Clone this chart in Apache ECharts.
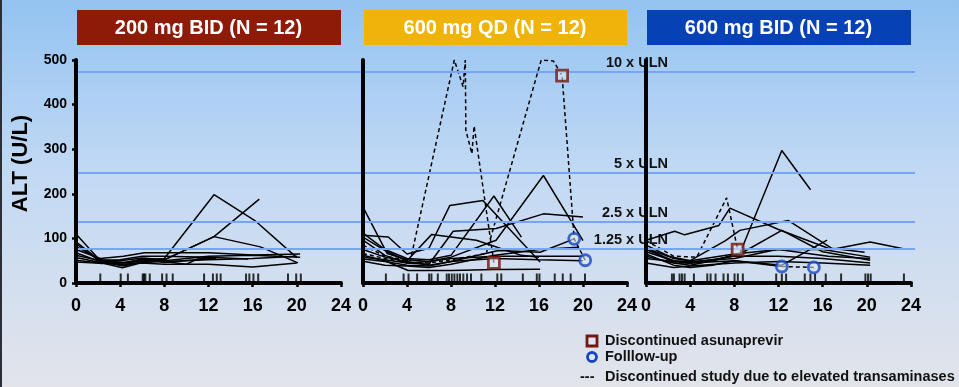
<!DOCTYPE html>
<html>
<head>
<meta charset="utf-8">
<script src="https://cdn.jsdelivr.net/npm/echarts@6/dist/echarts.min.js"></script>
<style>
  html, body { margin: 0; padding: 0; }
  #chart { width: 959px; height: 387px; }
</style>
</head>
<body>
<div id="chart"></div>
<script>
const panelTitles = ["200 mg BID (N = 12)", "600 mg QD (N = 12)", "600 mg BID (N = 12)"];
const panelColors = ["#8e1a08", "#f0b30a", "#0642b6"];

const ulnValues = [473, 247, 137, 76];
const ulnLabels = ["10 x ULN", "5 x ULN", "2.5 x ULN", "1.25 x ULN"];

// 200 mg BID, one array per patient: [week, ALT]
const p1Traces = [
  [[0, 110], [2.2, 50], [4.2, 45], [6, 52], [8, 55], [12.5, 198], [16.2, 140], [20, 57]],
  [[0, 88], [2.2, 48], [4.3, 38], [6, 48], [8, 52], [12.5, 104], [16.6, 188]],
  [[0, 82], [2.2, 52], [4, 50], [6, 56], [8, 52], [12.5, 104], [16.7, 81], [20.1, 45]],
  [[0, 75], [2.2, 55], [4.3, 60], [6.2, 68], [8, 68], [12, 68], [16, 63], [20.3, 65]],
  [[0, 62], [2.2, 50], [4, 52], [6, 60], [8, 60], [12, 58], [15.6, 54]],
  [[0, 57], [2.2, 46], [4.2, 34], [6, 46], [8, 48], [10, 42], [11, 54], [12.7, 57]],
  [[0, 51], [2.2, 45], [4, 42], [6, 45], [8, 42], [12, 42], [16, 36], [20, 45]],
  [[0, 47], [2.2, 44], [4, 45], [6, 50], [8, 48], [12, 52], [16, 55], [20, 60]],
  [[0, 68], [2.2, 48], [4.3, 40], [6, 52], [8, 50], [12, 60], [16, 62], [20.3, 58]],
  [[0, 92], [2.2, 50], [4.5, 46], [6.2, 55], [8, 46], [12.7, 56]]
];
const p1Dashed = [];
const p1Rug = [2.2, 4.05, 4.7, 6.04, 6.16, 6.28, 6.68, 7.8, 8.2, 8.76, 11.6, 12.4, 12.75, 13.1,
  15.4, 15.7, 16.07, 16.5, 19.2, 19.94, 20.36];

// 600 mg QD
const p2Traces = [
  [[0, 170], [2.2, 66], [4, 52], [6, 48], [8, 58], [12.1, 96], [16.4, 241], [20, 95]],
  [[0, 112], [2, 75], [4, 55], [6, 52], [8, 62], [11.9, 195], [14.4, 103]],
  [[0, 107], [2.3, 103], [4, 65], [6, 78], [7.9, 174], [10.9, 185], [16.1, 47]],
  [[0, 103], [2.2, 70], [4, 50], [6.25, 109], [10.3, 96], [14.4, 62], [16, 58]],
  [[0, 96], [2, 62], [4, 45], [6, 42], [8.2, 116], [12.1, 122], [16.4, 155], [20, 148]],
  [[0, 75], [2, 58], [4, 48], [6, 40], [8, 48], [12.3, 73], [16.1, 69], [19.2, 99]],
  [[0, 62], [2, 50], [4.1, 28], [8, 28], [12, 30], [16.1, 31]],
  [[0, 58], [2, 52], [4, 45], [6, 48], [8, 55], [12, 60], [16, 60], [20.1, 60]],
  [[0, 54], [2, 48], [4, 40], [6, 38], [8, 48], [12, 55], [16, 52], [20, 50]],
  [[0, 49], [2, 40], [4, 38], [6, 35], [8, 42], [12, 62], [16, 75], [19.6, 80]]
];
const p2Dashed = [
  [[0, 85], [2, 60], [4.3, 50], [8.3, 500], [9.1, 440], [9.3, 500], [9.35, 342], [9.9, 290],
    [10.1, 352], [10.3, 318], [11.9, 45]],
  [[0, 66], [2, 55], [4, 46], [6, 45], [8, 52], [11.2, 66], [16.2, 500], [17.3, 498],
    [18.1, 465], [19.2, 99], [20.2, 51]]
];
const p2Rug = [2.08, 3.69, 4.14, 4.92, 6.01, 6.22, 6.8, 7.61, 7.82, 8.07, 8.31, 8.58, 8.82, 9.12,
  9.46, 9.82, 10.76, 12.21, 12.57, 14.53, 15.8, 16.04, 17.43, 18.16, 18.88, 20.18];

// 600 mg BID
const p3Traces = [
  [[0, 75], [2.5, 50], [4, 45], [6, 50], [8.5, 66], [12.3, 297], [14.9, 209]],
  [[0, 96], [2.6, 116], [3.5, 108], [6.6, 129], [7.6, 168], [12, 120], [16.8, 75], [20.3, 92], [23.3, 77]],
  [[0, 85], [2.5, 55], [4, 50], [7.2, 95], [8.5, 118], [12.9, 140], [16.8, 78], [19.8, 69]],
  [[0, 80], [2.5, 45], [4, 40], [6, 50], [8.5, 65], [12.3, 118], [16, 70], [20.3, 51]],
  [[0, 70], [2.5, 50], [4, 48], [8, 55], [11.85, 75], [16, 75], [20.3, 58]],
  [[0, 65], [2.5, 40], [4, 35], [6, 40], [8, 50], [12.3, 37]],
  [[0, 60], [2.5, 45], [4, 45], [8, 50], [12.3, 40], [16.4, 96]],
  [[0, 55], [2.5, 48], [4, 45], [8, 60], [12, 60], [16, 55], [20.3, 45]],
  [[0, 45], [2.5, 35], [4, 38], [8, 45], [12, 48], [16, 45], [20.3, 40]],
  [[0, 78], [2, 60], [4, 50], [8, 65], [12, 75], [16.5, 60], [20.3, 55]]
];
const p3Dashed = [
  [[0, 95], [2.5, 60], [4.6, 58], [7.3, 191], [8.3, 75]],
  [[12.3, 37], [15.2, 35]]
];
const p3Rug = [2.35, 2.53, 3.04, 3.26, 3.5, 4.34, 5.55, 5.85, 6.3, 7.02, 7.42, 8.02, 8.32, 8.77,
  11.79, 12.3, 12.69, 14.38, 14.89, 15.31, 16.28, 17.67, 19.87, 20.11, 20.35, 23.36];

const squares = [[], [[11.9, 45], [18.1, 465]], [[8.3, 75]]];
const circles = [[], [[19.2, 99], [20.2, 51]], [[12.3, 37], [15.2, 35]]];

const allTraces = [p1Traces, p2Traces, p3Traces];
const allDashed = [p1Dashed, p2Dashed, p3Dashed];
const allRugs = [p1Rug, p2Rug, p3Rug];

const panels = [
  { left: 76, width: 265 },
  { left: 363, width: 264 },
  { left: 646, width: 265 }
];
const plotTop = 60;
const plotHeight = 223;
const font = '"Liberation Sans", Arial, sans-serif';
const markerFill = "rgba(225,232,244,0.7)";

const chart = echarts.init(document.getElementById("chart"));

const grid = panels.map(p => ({ left: p.left, width: p.width, top: plotTop, height: plotHeight }));
grid.push({ left: 76, width: 839, top: plotTop, height: plotHeight });

const xAxis = panels.map((p, i) => ({
  type: "value",
  gridIndex: i,
  min: 0,
  max: 24,
  interval: 4,
  z: 5,
  axisLine: { lineStyle: { color: "#000", width: 4 } },
  axisTick: { show: true, length: 4, lineStyle: { color: "#000", width: 2.5 } },
  axisLabel: { color: "#000", fontSize: 18, fontWeight: "bold", fontFamily: font, margin: 14 },
  splitLine: { show: false }
}));
xAxis.push({ type: "value", gridIndex: 3, min: 0, max: 1, show: false });

const yAxis = panels.map((p, i) => ({
  type: "value",
  gridIndex: i,
  min: 0,
  max: 500,
  interval: 100,
  z: 5,
  name: i === 0 ? "ALT (U/L)" : "",
  nameLocation: "middle",
  nameGap: 44,
  nameTextStyle: { color: "#000", fontSize: 22, fontWeight: "bold", fontFamily: font, padding: [0, 0, 0, 16] },
  axisLine: { show: true, lineStyle: { color: "#000", width: 4 } },
  axisTick: { show: i === 0, length: 4, lineStyle: { color: "#000", width: 2.5 } },
  axisLabel: { show: i === 0, color: "#000", fontSize: 14, fontWeight: "bold", fontFamily: font, margin: 9 },
  splitLine: { show: false }
}));
yAxis.push({ type: "value", gridIndex: 3, min: 0, max: 500, show: false });

const series = [];

series.push({
  type: "line",
  xAxisIndex: 3,
  yAxisIndex: 3,
  data: [],
  z: 1,
  silent: true,
  markLine: {
    silent: true,
    symbol: "none",
    label: { show: false },
    lineStyle: { color: "#77a4f4", width: 2, type: "solid" },
    data: ulnValues.map(v => ({ yAxis: v }))
  }
});

allTraces.forEach((traces, i) => {
  traces.forEach(t => {
    series.push({
      type: "line", xAxisIndex: i, yAxisIndex: i, data: t,
      symbol: "none", silent: true, z: 3,
      lineStyle: { color: "#000", width: 1.5 }
    });
  });
  allDashed[i].forEach(t => {
    series.push({
      type: "line", xAxisIndex: i, yAxisIndex: i, data: t,
      symbol: "none", silent: true, z: 3,
      lineStyle: { color: "#000", width: 1.5, type: [4, 3] }
    });
  });
  series.push({
    type: "scatter", xAxisIndex: i, yAxisIndex: i,
    data: allRugs[i].map(x => [x, 0]),
    symbol: "rect", symbolSize: [2, 9], symbolOffset: [0, -5],
    itemStyle: { color: "#000" }, silent: true, z: 6
  });
  series.push({
    type: "scatter", xAxisIndex: i, yAxisIndex: i, data: squares[i],
    symbol: "rect", symbolSize: 11, silent: true, z: 7,
    itemStyle: { color: markerFill, borderColor: "#74170e", borderWidth: 2.8 }
  });
  series.push({
    type: "scatter", xAxisIndex: i, yAxisIndex: i, data: circles[i],
    symbol: "circle", symbolSize: 11, silent: true, z: 7,
    itemStyle: { color: markerFill, borderColor: "#1546bd", borderWidth: 2.8 }
  });
});

const titleGraphics = panels.map((p, i) => ({
  type: "group",
  children: [
    { type: "rect", shape: { x: p.left + 1, y: 10, width: p.width - 1, height: 35 }, style: { fill: panelColors[i] } },
    {
      type: "text", x: p.left + p.width / 2, y: 28,
      style: {
        text: panelTitles[i], fill: "#fff", align: "center", verticalAlign: "middle",
        font: "bold 20px " + font
      }
    }
  ]
}));

const legendFont = "bold 14.5px " + font;
const legendGraphics = [
  { type: "rect", shape: { x: 587, y: 336, width: 10, height: 10 }, style: { fill: markerFill, stroke: "#74170e", lineWidth: 2.8 } },
  { type: "text", x: 605, y: 341, style: { text: "Discontinued asunaprevir", fill: "#111", font: legendFont, verticalAlign: "middle" } },
  { type: "circle", shape: { cx: 592, cy: 357, r: 4.5 }, style: { fill: markerFill, stroke: "#1546bd", lineWidth: 2.8 } },
  { type: "text", x: 605, y: 357, style: { text: "Folllow-up", fill: "#111", font: legendFont, verticalAlign: "middle" } },
  { type: "text", x: 580, y: 377, style: { text: "---", fill: "#111", font: legendFont, verticalAlign: "middle" } },
  { type: "text", x: 605, y: 377, style: { text: "Discontinued study due to elevated transaminases", fill: "#111", font: legendFont, verticalAlign: "middle" } },
  { type: "rect", shape: { x: 0, y: 0, width: 2, height: 387 }, style: { fill: "#2a2f3a" } }
];

chart.setOption({
  animation: false,
  backgroundColor: new echarts.graphic.LinearGradient(0, 0, 0, 1, [
    { offset: 0, color: "#93c3f1" },
    { offset: 0.45, color: "#c2d9f4" },
    { offset: 1, color: "#e2e4ea" }
  ]),
  grid: grid,
  xAxis: xAxis,
  yAxis: yAxis,
  series: series,
  graphic: titleGraphics.concat(legendGraphics)
});

// ULN labels placed just above their reference lines
const ulnGraphics = ulnValues.map((v, k) => {
  const y = chart.convertToPixel({ gridIndex: 3 }, [0, v])[1];
  return {
    type: "text", x: 668, y: y - 9,
    style: { text: ulnLabels[k], fill: "#111", font: "bold 14.5px " + font, align: "right", verticalAlign: "middle" }
  };
});
chart.setOption({ graphic: titleGraphics.concat(legendGraphics, ulnGraphics) });
</script>
</body>
</html>
